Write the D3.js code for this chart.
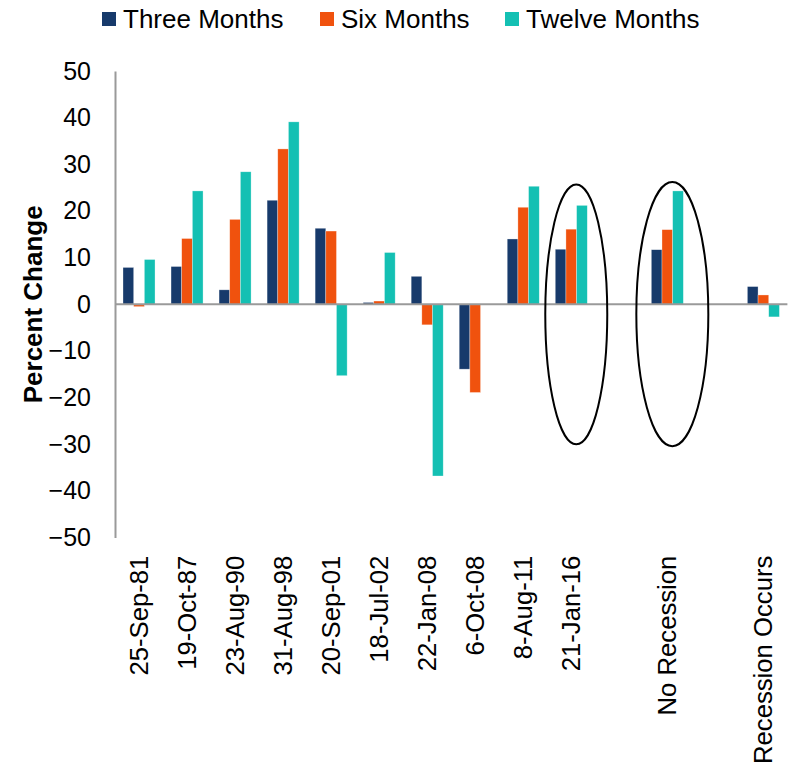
<!DOCTYPE html>
<html><head><meta charset="utf-8">
<script src="https://cdn.jsdelivr.net/npm/d3@7"></script>
<style>
html,body{margin:0;padding:0;background:#fff;}
svg{display:block;font-family:"Liberation Sans",Arial,sans-serif;}
</style></head>
<body><svg id="c" width="790" height="771"></svg>
<script>
const categories = ["25-Sep-81","19-Oct-87","23-Aug-90","31-Aug-98","20-Sep-01","18-Jul-02","22-Jan-08","6-Oct-08","8-Aug-11","21-Jan-16","","No Recession","","Recession Occurs"];
const seriesNames = ["Three Months","Six Months","Twelve Months"];
const threeMonths = [7.9, 8.1, 3.1, 22.3, 16.3, 0.4, 6.0, -13.9, 14.0, 11.8, null, 11.7, null, 3.8];
const sixMonths   = [-0.5, 14.1, 18.2, 33.3, 15.7, 0.7, -4.4, -18.9, 20.8, 16.1, null, 16.0, null, 2.0];
const twelveMonths= [9.6, 24.3, 28.4, 39.1, -15.3, 11.1, -36.8, 0, 25.3, 21.2, null, 24.3, null, -2.7];
const yTicks = [-50,-40,-30,-20,-10,0,10,20,30,40,50];
const colors = ["#173a6b","#f0520e","#14c0b3"];
// ellipse annotations: category index, top value, bottom value
const ellipseCats = [9, 11];
const ellipseTop = [25.7, 26.2];
const ellipseBottom = [-30.0, -30.4];

const svg = d3.select("#c");
const x0 = 115, x1 = 787.4, yTop = 71, yBot = 537.6;
const x = d3.scaleBand().domain(d3.range(categories.length)).range([x0, x1]).paddingInner(1/3).paddingOuter(1/6);
const xs = d3.scaleBand().domain(d3.range(3)).range([0, x.bandwidth()]);
const y = d3.scaleLinear().domain([-50,50]).range([yBot, yTop]);
const series = [threeMonths, sixMonths, twelveMonths];

// bars
series.forEach((vals, si) => {
  svg.append("g").selectAll("rect").data(vals.map((v,i)=>({v,i})).filter(d=>d.v!==null && d.v!==0))
    .join("rect")
    .attr("x", d => x(d.i) + xs(si))
    .attr("width", xs.bandwidth())
    .attr("y", d => y(Math.max(0,d.v)))
    .attr("height", d => Math.abs(y(d.v)-y(0)))
    .attr("fill", colors[si])
    .attr("stroke", "rgba(255,255,255,0.5)")
    .attr("stroke-width", 0.6);
});

// y axis
const yAxis = d3.axisLeft(y).tickValues(yTicks).tickSize(0).tickPadding(24);
const gy = svg.append("g").attr("transform", `translate(${x0},0)`).call(yAxis);
gy.select(".domain").attr("stroke","#9a9a9a").attr("stroke-width",2);
gy.selectAll("text").attr("font-size",25).attr("fill","#000").attr("font-family","Liberation Sans, Arial, sans-serif");

// zero line
svg.append("line").attr("x1", x0).attr("x2", x1).attr("y1", y(0)).attr("y2", y(0))
  .attr("stroke","#9a9a9a").attr("stroke-width",2);

// category labels
const xAxis = d3.axisBottom(x).tickFormat(i => categories[i]).tickSize(0).tickPadding(0);
const gx = svg.append("g").attr("transform", `translate(0,${yBot})`).call(xAxis);
gx.select(".domain").remove();
gx.selectAll("text")
  .attr("font-size",25.7).attr("fill","#000").attr("font-family","Liberation Sans, Arial, sans-serif")
  .attr("text-anchor","end").attr("dy","0.35em")
  .attr("transform","translate(0,18) rotate(-90)").attr("x",0).attr("y",0);

// y title
svg.append("text").attr("transform", `translate(42,${(y(50)+y(-50))/2}) rotate(-90)`)
  .attr("text-anchor","middle").attr("font-size",26).attr("font-weight","bold").text("Percent Change");

// ellipses
ellipseCats.forEach((ci, k) => {
  const cx = x(ci) + x.bandwidth()/2 + 5;
  const t = y(ellipseTop[k]), b = y(ellipseBottom[k]);
  svg.append("ellipse").attr("cx", cx).attr("cy", (t+b)/2).attr("rx", k===0?31:36).attr("ry", (b-t)/2)
    .attr("fill","none").attr("stroke","#000").attr("stroke-width",2);
});

// legend
const legendX = [102, 320, 505];
seriesNames.forEach((n, i) => {
  const g = svg.append("g").attr("transform", `translate(${legendX[i]},0)`);
  g.append("rect").attr("x",0).attr("y",12).attr("width",14).attr("height",14).attr("fill",colors[i]);
  g.append("text").attr("x",21).attr("y",28).attr("font-size",26).text(n);
});
</script></body></html>
